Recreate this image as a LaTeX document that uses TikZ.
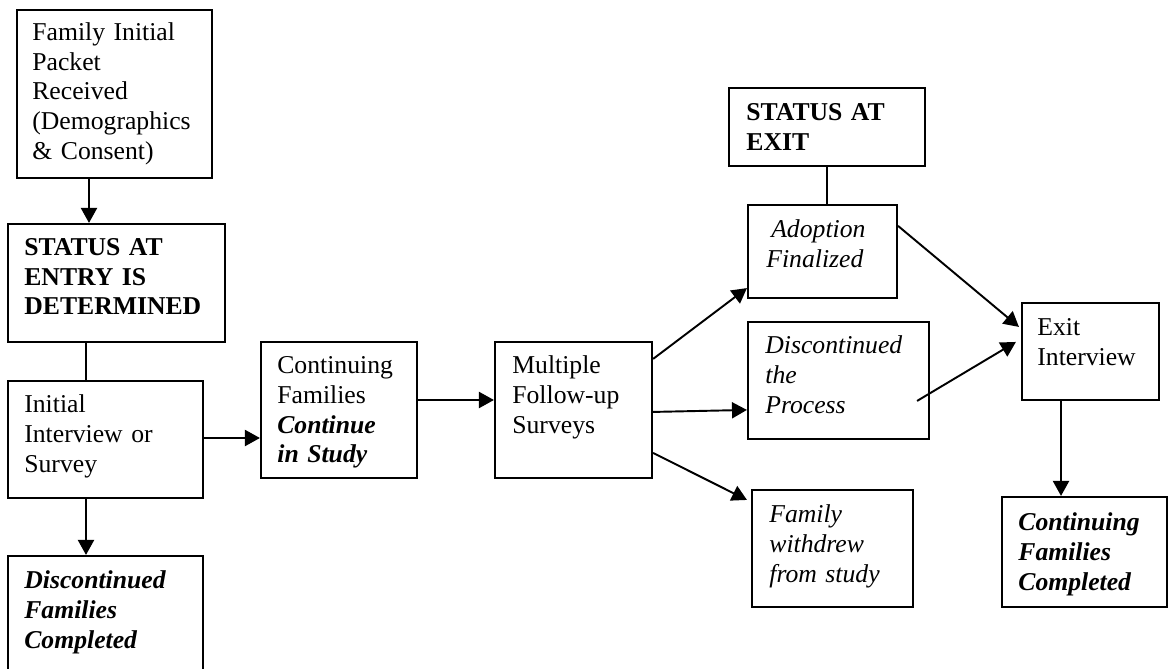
\documentclass[tikz,border=0pt]{standalone}
\usepackage{fontspec}
\setmainfont{Liberation Serif}
\usetikzlibrary{arrows.meta,fit,calc}
\begin{document}
\begin{tikzpicture}[x=0.4673pt,y=-0.4673pt,
  box/.style={draw,line width=1pt,inner sep=0pt},
  txt/.style={anchor=base west,inner sep=0pt,align=left,text width=110pt,font=\fontsize{12}{13.8}\selectfont},
  arr/.style={line width=0.9pt,-{Triangle[length=7pt,width=7.5pt]}},
  ln/.style={line width=0.9pt}]
\clip (0,0) rectangle (1169,668);
\fill[white] (0,0) rectangle (1169,668);
% boxes
\node[box,fit={(17,10) (212,178)}] (b1) {};
\node[box,fit={(8,224) (225,342)}] (b2) {};
\node[box,fit={(8,381) (203,498)}] (b3) {};
\node[box,fit={(8,556) (203,700)}] (b4) {};
\node[box,fit={(261,342) (417,478)}] (b5) {};
\node[box,fit={(495,342) (652,478)}] (b6) {};
\node[box,fit={(729,88) (925,166)}] (bx) {};
\node[box,fit={(748,205) (897,298)}] (ba) {};
\node[box,fit={(748,322) (929,439)}] (bd) {};
\node[box,fit={(1022,303) (1159,400)}] (be) {};
\node[box,fit={(752,490) (913,607)}] (bw) {};
\node[box,fit={(1002,497) (1167,607)}] (bc) {};
% texts
\node[txt] (t1) at ($(b1.north west)+(16,32)$) {Family Initial\\Packet\\Received\\(Demographics\\\& Consent)};
\node[txt] (t2) at ($(b2.north west)+(17,33)$) {\textbf{STATUS AT}\\\textbf{ENTRY IS}\\\textbf{DETERMINED}};
\node[txt] (t3) at ($(b3.north west)+(17,33)$) {Initial\\Interview or\\Survey};
\node[txt] (t4) at ($(b4.north west)+(17,34)$) {\textbf{\textit{Discontinued}}\\\textbf{\textit{Families}}\\\textbf{\textit{Completed}}};
\node[txt] (t5) at ($(b5.north west)+(17,33)$) {Continuing\\Families\\\textbf{\textit{Continue}}\\\textbf{\textit{in Study}}};
\node[txt] (t6) at ($(b6.north west)+(18,33)$) {Multiple\\Follow-up\\Surveys};
\node[txt] (tx) at ($(bx.north west)+(18,34)$) {\textbf{STATUS AT}\\\textbf{EXIT}};
\node[txt] (ta) at ($(ba.north west)+(19,34)$) {\textit{\hspace*{2.3pt}Adoption}\\\textit{Finalized}};
\node[txt] (td) at ($(bd.north west)+(18,33)$) {\textit{Discontinued}\\\textit{the}\\\textit{Process}};
\node[txt] (te) at ($(be.north west)+(16,34)$) {Exit\\Interview};
\node[txt] (tw) at ($(bw.north west)+(18,34)$) {\textit{Family}\\\textit{withdrew}\\\textit{from study}};
\node[txt] (tc) at ($(bc.north west)+(17,35)$) {\textbf{\textit{Continuing}}\\\textbf{\textit{Families}}\\\textbf{\textit{Completed}}};
% helper coordinates
\coordinate (c1) at (89,0);
\coordinate (c2) at (86,0);
\coordinate (c3) at (827,0);
\coordinate (c4) at (1061,0);
\coordinate (r1) at (0,438);
\coordinate (r2) at (0,400);
% connectors
\draw[arr] (b1.south -| c1) -- (b2.north -| c1);
\draw[ln] (b2.south -| c2) -- (b3.north -| c2);
\draw[arr] (b3.south -| c2) -- (b4.north -| c2);
\draw[arr] (b3.east |- r1) -- (b5.west |- r1);
\draw[arr] (b5.east |- r2) -- (b6.west |- r2);
\draw[arr] ($(b6.north east)+(0,18)$) -- ($(ba.south west)+(0,-11)$);
\draw[arr] ($(b6.north east)+(0,71)$) -- ($(bd.north west)+(0,89)$);
\draw[arr] ($(b6.north east)+(0,112)$) -- ($(bw.north west)+(-4,11)$);
\draw[ln] (bx.south -| c3) -- (ba.north -| c3);
\draw[arr] ($(ba.north east)+(0,22)$) -- ($(be.north west)+(-2,25)$);
\draw[arr] ($(bd.north east)+(-13,80)$) -- ($(be.north west)+(-5,40)$);
\draw[arr] (be.south -| c4) -- (bc.north -| c4);
\end{tikzpicture}
\end{document}
